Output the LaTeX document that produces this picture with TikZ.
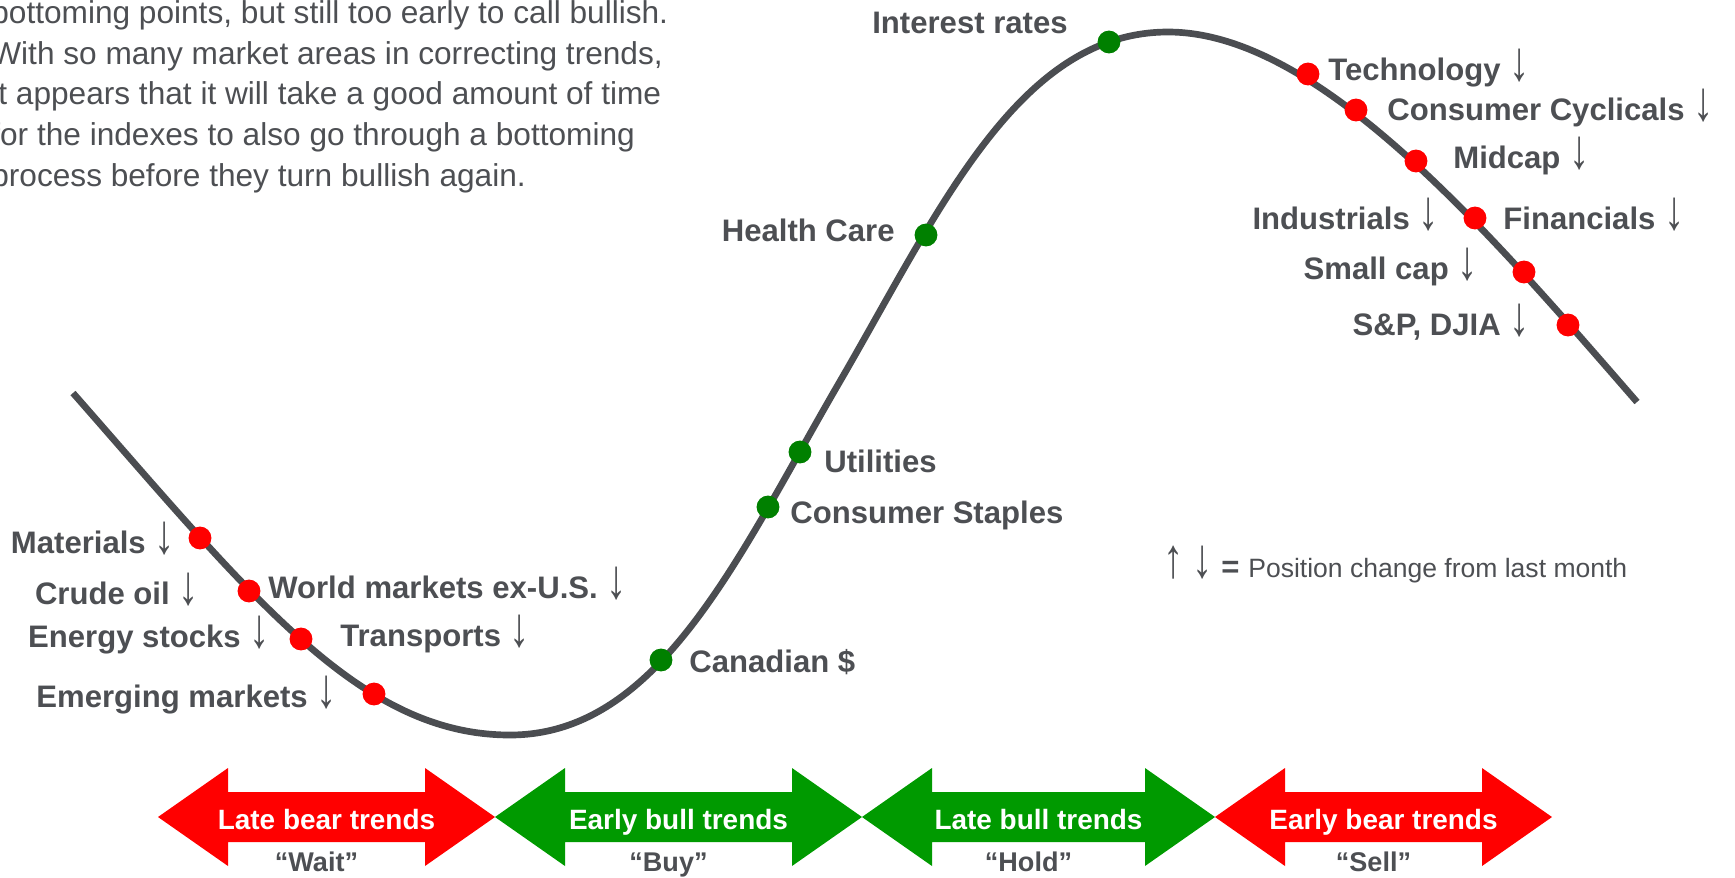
\documentclass[tikz,border=0pt]{standalone}
\usepackage{graphicx}
\usepackage{fontspec}
\setmainfont{Liberation Sans}
\definecolor{inkgray}{HTML}{4D4F53}
\definecolor{curvegray}{HTML}{4B4D51}
\definecolor{bearred}{HTML}{FF0000}
\definecolor{bullgreen}{HTML}{009A00}
\definecolor{dotgreen}{HTML}{008000}
\newcommand\arrdown{\scalebox{1.3}[1.8]{\mdseries ↓}}
\newcommand\arrup{\scalebox{1.3}[1.8]{\mdseries ↑}}
\tikzset{
  sector/.style={font=\bfseries\fontsize{17.7}{21}\selectfont, text=inkgray, inner sep=0pt},
  bear/.style={circle, fill=bearred, inner sep=0pt, minimum size=13pt},
  bull/.style={circle, fill=dotgreen, inner sep=0pt, minimum size=13pt},
  trend/.style={font=\bfseries\fontsize{15.9}{19}\selectfont, text=white, inner sep=0pt, anchor=base},
  quote/.style={font=\bfseries\fontsize{15.4}{18}\selectfont, text=inkgray, inner sep=0pt, anchor=base},
}
\begin{document}
\begin{tikzpicture}[x=0.02cm,y=-0.02cm]
\useasboundingbox (0,0) rectangle (1735,877);
\clip (0,0) rectangle (1735,877);

% note at the top left
\node[anchor=north west, align=left, inner sep=0pt, text=inkgray,
  font=\fontsize{18}{23.2}\selectfont] (note) at (-9,0)
  {bottoming points, but still too early to call bullish.\\
   With so many market areas in correcting trends,\\
   it appears that it will take a good amount of time\\
   for the indexes to also go through a bottoming\\
   process before they turn bullish again.};

% the cycle
\draw[curvegray, line width=3.8pt] (73,393)
  .. controls (253,598) and (360,735) .. (510,735)
  .. controls (660,735) and (739,555) .. (839,383)
  .. controls (939,211) and (1018,32) .. (1168,32)
  .. controls (1318,32) and (1487,229.5) .. (1637,402);

% groups on the curve
\node[bear] (mat) at (200,538) {};
\node[bear] (crude) at (249,591) {};
\node[bear] (energy) at (301,639) {};
\node[bear] (emerg) at (374,694) {};
\node[bull] (cad) at (661,660) {};
\node[bull] (staples) at (768,507) {};
\node[bull] (util) at (800,452) {};
\node[bull] (health) at (926,235) {};
\node[bull] (rates) at (1109,42) {};
\node[bear] (tech) at (1308,74) {};
\node[bear] (cycl) at (1356,110) {};
\node[bear] (mid) at (1416,161) {};
\node[bear] (fin) at (1475,218) {};
\node[bear] (small) at (1524,272) {};
\node[bear] (spx) at (1568,325) {};

\node[sector, anchor=base east] (lmat) at (175,553) {Materials~\arrdown};
\node[sector, anchor=base east] (lcrude) at (199,604) {Crude oil~\arrdown};
\node[sector, anchor=base west] (lworld) at (268,598) {World markets ex-U.S.~\arrdown};
\node[sector, anchor=base east] (lenergy) at (270,647) {Energy stocks~\arrdown};
\node[sector, anchor=base west] (ltrans) at (340,646) {Transports~\arrdown};
\node[sector, anchor=base east] (lemerg) at (337,707) {Emerging markets~\arrdown};
\node[sector, anchor=base west] (lcad) at (689,672) {Canadian \$};
\node[sector, anchor=base west] (lstaples) at (790,523) {Consumer Staples};
\node[sector, anchor=base west] (lutil) at (824,472) {Utilities};
\node[sector, anchor=base east] (lhealth) at (895,241) {Health Care};
\node[sector, anchor=base east] (lrates) at (1068,33) {Interest rates};
\node[sector, anchor=base west] (ltech) at (1328,80) {Technology~\arrdown};
\node[sector, anchor=base west] (lcycl) at (1387,120) {Consumer Cyclicals~\arrdown};
\node[sector, anchor=base west] (lmid) at (1453,168) {Midcap~\arrdown};
\node[sector, anchor=base east] (lind) at (1439,229) {Industrials~\arrdown};
\node[sector, anchor=base west] (lfin) at (1503,229) {Financials~\arrdown};
\node[sector, anchor=base east] (lsmall) at (1478,279) {Small cap~\arrdown};
\node[sector, anchor=base east] (lspx) at (1530,335) {S\&P, DJIA~\arrdown};

% key
\node[anchor=base west, inner sep=0pt, text=inkgray, font=\fontsize{15.1}{18}\selectfont] (key)
  at (1163,577) {{\fontsize{17.7}{21}\selectfont\arrup\hspace{5pt}\arrdown\hspace{5pt}\textbf{=}}\hspace{5pt}Position change from last month};

% phase arrows
\foreach \xa/\xb/\clr/\phase/\say/\nm in {
  158/495/bearred/Late bear trends/Wait/wait,
  495/862/bullgreen/Early bull trends/Buy/buy,
  862/1215/bullgreen/Late bull trends/Hold/hold,
  1215/1552/bearred/Early bear trends/Sell/sell}{
  \fill[\clr] (\xa,817) -- (\xa+70,768) -- (\xa+70,792) -- (\xb-70,792)
    -- (\xb-70,768) -- (\xb,817) -- (\xb-70,866) -- (\xb-70,842)
    -- (\xa+70,842) -- (\xa+70,866) -- cycle;
  \node[trend] (\nm) at ({(\xa+\xb)/2},829) {\phase};
  \node[quote] (\nm-q) at ({(\xa+\xb)/2-10},871) {“\say”};
}
\end{tikzpicture}
\end{document}
